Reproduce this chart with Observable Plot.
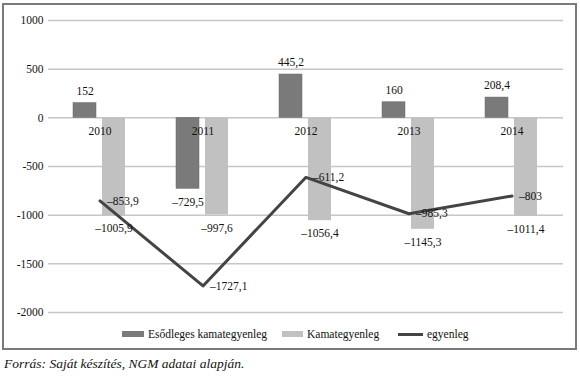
<!DOCTYPE html>
<html>
<head>
<meta charset="utf-8">
<script src="https://cdn.jsdelivr.net/npm/d3@7"></script>
<script src="https://cdn.jsdelivr.net/npm/@observablehq/plot@0.6"></script>
<style>
  html, body { margin: 0; padding: 0; background: #fff; }
  body { width: 580px; height: 377px; position: relative; font-family: "Liberation Serif", "Tinos", "Times New Roman", "DejaVu Serif", serif; }
  #box { position: absolute; left: 2px; top: 3px; width: 571px; height: 343px; border: 2px solid #7a7a7a; background: #fff; }
  #chart svg { display: block; }
  #legend { position: absolute; left: 0; top: 321px; width: 571px; height: 16px; font-size: 11.5px; color: #111; }
  .item { position: absolute; top: 0; display: flex; align-items: center; height: 16px; white-space: nowrap; }
  .sw { display: inline-block; margin-right: 4px; }
  #caption { position: absolute; left: 4px; top: 356px; font-style: italic; font-size: 13.5px; color: #111; }
</style>
</head>
<body>
<div id="box">
  <div id="chart"></div>
  <div id="legend"></div>
</div>
<div id="caption">Forrás: Saját készítés, NGM adatai alapján.</div>
<script>
const years = ["2010", "2011", "2012", "2013", "2014"];
const esodleges = [152, -729.5, 445.2, 160, 208.4];
const kamat = [-1005.9, -997.6, -1056.4, -1145.3, -1011.4];
const egyenleg = [-853.9, -1727.1, -611.2, -985.3, -803];
const seriesNames = ["Esődleges kamategyenleg", "Kamategyenleg", "egyenleg"];
const yTicks = [1000, 500, 0, -500, -1000, -1500, -2000];

const colDark = "#7a7a7a";
const colLight = "#c1c1c1";
const colLine = "#444444";
const serif = "'Liberation Serif', Tinos, 'Times New Roman', 'DejaVu Serif', serif";

const fmt = v => (v < 0 ? "\u2013" : "") + String(Math.abs(v)).replace(".", ",");

const dark = years.map((y, i) => ({year: y, value: esodleges[i]}));
const light = years.map((y, i) => ({year: y, value: kamat[i]}));
const line = years.map((y, i) => ({year: y, value: egyenleg[i]}));

const plot = Plot.plot({
  width: 571,
  height: 318,
  marginLeft: 44,
  marginRight: 12,
  marginTop: 15,
  marginBottom: 11,
  style: {fontFamily: serif, fontSize: "11.5px", color: "#111", background: "#fff"},
  x: {domain: years, padding: 0, axis: null},
  y: {domain: [-2000, 1000], ticks: yTicks, tickSize: 0, tickPadding: 5, tickFormat: d => String(d), label: null},
  marks: [
    Plot.ruleY(yTicks, {stroke: "#c6c6c6", strokeWidth: 1.5}),
    Plot.barY(dark, {x: "year", y: "value", fill: colDark, stroke: "#6a6a6a", strokeWidth: 0.5, insetLeft: 25, insetRight: 55}),
    Plot.barY(light, {x: "year", y: "value", fill: colLight, insetLeft: 54, insetRight: 26}),
    Plot.text(years, {x: d => d, y: 0, text: d => d, dy: 13, fill: "#111"}),
    Plot.lineY(line, {x: "year", y: "value", stroke: colLine, strokeWidth: 3}),
    Plot.text(dark.filter(d => d.value >= 0), {x: "year", y: "value", text: d => fmt(d.value), dx: -15, dy: -12, fill: "#111"}),
    Plot.text(dark.filter(d => d.value < 0), {x: "year", y: "value", text: d => fmt(d.value), dx: -15, dy: 13, fill: "#111"}),
    Plot.text(light, {x: "year", y: "value", text: d => fmt(d.value), dx: 14, dy: 13, fill: "#111"}),
    Plot.text(line, {x: "year", y: "value", text: d => fmt(d.value), dx: 7, textAnchor: "start", fill: "#111"})
  ]
});
document.getElementById("chart").appendChild(plot);

const legend = document.getElementById("legend");
const legItems = [
  {name: seriesNames[0], left: 118, sw: `<span class="sw" style="width:22px;height:6px;background:${colDark}"></span>`},
  {name: seriesNames[1], left: 278, sw: `<span class="sw" style="width:21px;height:6px;background:${colLight}"></span>`},
  {name: seriesNames[2], left: 394, sw: `<span class="sw" style="width:25px;height:3px;background:${colLine}"></span>`}
];
for (const it of legItems) {
  const d = document.createElement("div");
  d.className = "item";
  d.style.left = it.left + "px";
  d.innerHTML = it.sw + `<span>${it.name}</span>`;
  legend.appendChild(d);
}
</script>
</body>
</html>
